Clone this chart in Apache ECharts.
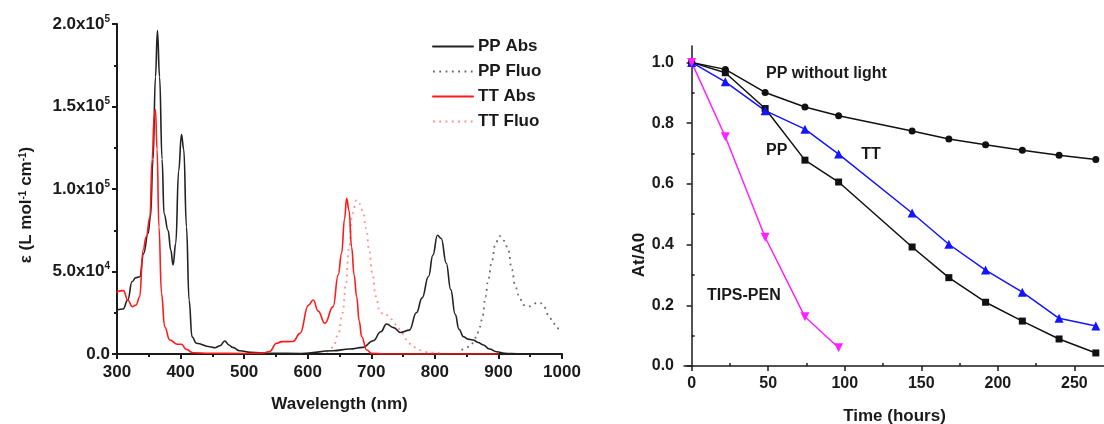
<!DOCTYPE html>
<html>
<head>
<meta charset="utf-8">
<script src="https://cdn.jsdelivr.net/npm/echarts@6/dist/echarts.min.js"></script>
<style>
html,body{margin:0;padding:0;background:#fff;}
#c{width:1104px;height:424px;}
</style>
</head>
<body>
<div id="c"></div>
<script>
// ---------- Left chart: absorption / fluorescence spectra ----------
const ppAbsNm  = [300,309.5,317,323.6,329.5,335.7,342,348.8,352.6,356.7,360.5,363.6,367,370.9,374,380.3,384.6,388.2,392.4,397,401.4,405,409.3,413.4,418,425,446,454,462,469.6,476,482,493,510,540,590,640,666,687,703,715,724,735,746,760,771,780,790,797,804,810,818,825,832,838,845,852,860,868,876,886,897,910,920,940,1000];
const ppAbsEps = [26700,27300,32700,43800,46200,46800,61000,73000,83000,118000,168000,196000,168000,118000,85000,75000,63000,54000,67000,111000,133000,124000,77000,32700,10500,6500,4400,3800,5000,7900,5500,4000,2000,1000,500,300,2000,3000,4000,8000,13500,18200,16000,13000,14500,25000,34000,47000,60000,72000,70000,55000,39000,24000,15000,10500,9000,8500,7000,5500,3000,1400,400,200,0,0];

const ppFluoNm  = [842,855,865,871,875,879.5,884,889.6,894.8,901.6,909.5,915.7,921,926.3,931.5,939.4,947,954,960.5,966,971,979,986,992,1000];
const ppFluoEps = [2400,4400,10000,16500,22600,34700,45000,56000,66000,71500,68500,62600,51300,41800,35800,29700,28700,29500,31300,31000,29000,23600,19000,15600,14500];

const ttAbsNm  = [300,310,317,324,330,335.7,341,346,351.8,355.3,358.5,360.5,363,366,370,375,383,395,401.4,409,419.6,446,500,530,540,551,559,570,577,588,601,608.7,616.5,627,640,648,653.3,658,661.2,665,669,673,677,681,684.9,692.8,700.6,720,800,900];
const ttAbsEps = [37800,38400,32700,28700,29700,34700,63000,71000,83000,118000,144000,148000,124000,77000,36800,16500,8500,5900,5900,2800,800,500,300,600,1500,6500,7500,7500,7600,12500,29500,32700,26000,18600,28700,48000,61000,82000,94300,87000,65000,48000,34700,20000,10500,2400,400,0,0,0];

const ttFluoNm  = [630,640,648,655,660,665,670,677,682,687,692,697,702,707,713.7,720,725,732,740,748,756,765,775,785,797,812];
const ttFluoEps = [1000,4000,12000,25000,42000,65000,85000,93300,91000,86000,76000,62000,48000,35000,25600,23500,23600,21000,17600,12500,8500,4500,2400,1200,800,200];

const wavelengthTicks = [300,400,500,600,700,800,900,1000];
const epsTicks = [0,50000,100000,150000,200000];

// ---------- Right chart: photostability ----------
const hours      = [0,22,48,74,96,144,168,192,216,240,264];
const ppDark     = [1.0,0.977,0.901,0.853,0.824,0.774,0.748,0.729,0.711,0.694,0.680];
const ppLight    = [1.0,0.966,0.848,0.678,0.606,0.392,0.291,0.210,0.148,0.089,0.043];
const ttLight    = [1.0,0.936,0.841,0.780,0.698,0.504,0.401,0.316,0.243,0.157,0.132];
const tipsHours  = [0,22,48,74,96];
const tipsLight  = [1.0,0.755,0.424,0.162,0.060];
const hourTicks  = [0,50,100,150,200,250];
const hourMinor  = [25,75,125,175,225];
const ratioTicks = [0,0.2,0.4,0.6,0.8,1.0];
const ratioMinor = [0.1,0.3,0.5,0.7,0.9];
const annotTexts = ['PP without light','PP','TT','TIPS-PEN'];
const annotX     = [48.6,48.6,110.7,10];
const annotY     = [0.964,0.711,0.695,0.231];

const zip = (a,b) => a.map((v,i)=>[v,b[i]]);
const FONT = 'Liberation Sans, Arial, sans-serif';
const INK = '#1a1a1a';

const chart = echarts.init(document.getElementById('c'));

function sciLabel(v){
  if (v === 0) return '{a|0.0}';
  const e = Math.floor(Math.log10(v) + 1e-9);
  const m = (v/Math.pow(10,e)).toFixed(1);
  return '{a|' + m + 'x10}{s|' + e + '}';
}

const leftLine = (name, nm, eps, color, type, width) => ({
  name, type:'line', xAxisIndex:0, yAxisIndex:0,
  data: zip(nm, eps), showSymbol:false, symbol:'none',
  smooth:0.45, smoothMonotone:'x',
  lineStyle:{color, width, type, cap: type === 'solid' ? 'round' : 'butt'},
  itemStyle:{color, opacity:0},
  z: type === 'solid' ? 3 : 2
});

const rightLine = (name, x, y, color, symbol, size, rotate) => ({
  name, type:'line', xAxisIndex:1, yAxisIndex:1,
  data: zip(x, y), symbol, symbolSize:size, symbolRotate: rotate||0,
  showAllSymbol:true,
  lineStyle:{color, width:1.5}, itemStyle:{color, opacity:1}
});

chart.setOption({
  animation:false,
  backgroundColor:'#fff',
  textStyle:{fontFamily:FONT},
  grid:[
    {left:117, top:24, width:445, height:330, outerBoundsMode:'none', containLabel:false},
    {left:684, top:46, width:421, height:320, outerBoundsMode:'none', containLabel:false}
  ],
  legend:{
    left:427, top:33, orient:'vertical',
    itemWidth:40, itemHeight:14, itemGap:8,
    textStyle:{fontSize:17, fontWeight:'bold', color:INK, fontFamily:FONT},
    data:['PP Abs','PP Fluo','TT Abs','TT Fluo']
  },
  xAxis:[
    {
      type:'value', gridIndex:0, min:300, max:1000, interval:100,
      axisLine:{lineStyle:{color:INK, width:2}},
      axisTick:{length:5, lineStyle:{width:2, color:INK}},
      minorTick:{show:true, splitNumber:2, length:3, lineStyle:{width:2, color:INK}},
      splitLine:{show:false},
      axisLabel:{fontSize:17, fontWeight:'bold', color:INK, margin:10, fontFamily:FONT,
                 customValues:wavelengthTicks, formatter:v=>String(v)},
      name:'Wavelength (nm)', nameLocation:'middle', nameGap:42,
      nameTextStyle:{fontSize:17, fontWeight:'bold', color:INK, fontFamily:FONT}
    },
    {
      type:'value', gridIndex:1, min:-5, max:270,
      axisLine:{lineStyle:{color:INK, width:1.5}},
      axisTick:{length:5, lineStyle:{width:1.5, color:INK}, customValues:hourTicks},
      splitLine:{show:false},
      axisLabel:{fontSize:16, fontWeight:'bold', color:INK, margin:10, fontFamily:FONT,
                 customValues:hourTicks, formatter:v=>String(v)},
      name:'Time (hours)', nameLocation:'middle', nameGap:42,
      nameTextStyle:{fontSize:17, fontWeight:'bold', color:INK, fontFamily:FONT}
    },
    {
      type:'value', gridIndex:1, min:-5, max:270,
      axisLine:{show:false},
      axisTick:{length:3, lineStyle:{width:1.5, color:INK}, customValues:hourMinor},
      axisLabel:{show:false},
      splitLine:{show:false}
    }
  ],
  yAxis:[
    {
      type:'value', gridIndex:0, min:0, max:200000, interval:50000,
      axisLine:{show:true, lineStyle:{color:INK, width:2}},
      axisTick:{show:true, length:5, lineStyle:{width:2, color:INK}},
      minorTick:{show:true, splitNumber:2, length:3, lineStyle:{width:2, color:INK}},
      splitLine:{show:false},
      axisLabel:{
        margin:7, formatter:sciLabel, customValues:epsTicks,
        rich:{
          a:{fontSize:17, fontWeight:'bold', color:INK, fontFamily:FONT, lineHeight:20},
          s:{fontSize:10, fontWeight:'bold', color:INK, fontFamily:FONT, verticalAlign:'top', lineHeight:12}
        }
      },
      name:'ε (L mol{s|-1} cm{s|-1})', nameLocation:'middle', nameGap:82,
      nameTextStyle:{
        fontSize:17, fontWeight:'bold', color:INK, fontFamily:FONT, padding:[0,32,0,0],
        rich:{s:{fontSize:10, fontWeight:'bold', color:INK, fontFamily:FONT, verticalAlign:'top', lineHeight:12}}
      }
    },
    {
      type:'value', gridIndex:1, min:0, max:1.054,
      axisLine:{show:true, lineStyle:{color:INK, width:1.5}},
      axisTick:{show:true, length:5, lineStyle:{width:1.5, color:INK}, customValues:ratioTicks},
      splitLine:{show:false},
      axisLabel:{fontSize:16, fontWeight:'bold', color:INK, margin:10, fontFamily:FONT,
                 customValues:ratioTicks, formatter:v=>v.toFixed(1)},
      name:'At/A0', nameLocation:'middle', nameGap:22,
      nameTextStyle:{fontSize:17, fontWeight:'bold', color:INK, fontFamily:FONT, padding:[0,98,0,0]}
    },
    {
      type:'value', gridIndex:1, min:0, max:1.054,
      axisLine:{show:false},
      axisTick:{show:true, length:3, lineStyle:{width:1.5, color:INK}, customValues:ratioMinor},
      axisLabel:{show:false},
      splitLine:{show:false}
    }
  ],
  series:[
    leftLine('PP Abs', ppAbsNm, ppAbsEps, '#222222', 'solid', 1.6),
    leftLine('PP Fluo', ppFluoNm, ppFluoEps, '#6a6a6a', [1.8,4.5], 1.8),
    leftLine('TT Abs', ttAbsNm, ttAbsEps, '#ff1a1a', 'solid', 1.6),
    leftLine('TT Fluo', ttFluoNm, ttFluoEps, '#ff8c8c', [1.8,4.5], 1.8),
    rightLine('PP without light', hours, ppDark, '#111111', 'circle', 7),
    rightLine('PP', hours, ppLight, '#111111', 'rect', 7),
    rightLine('TT', hours, ttLight, '#1414ff', 'triangle', 9),
    rightLine('TIPS-PEN', tipsHours, tipsLight, '#ff22ff', 'triangle', 9, 180),
    {
      type:'scatter', xAxisIndex:1, yAxisIndex:1, symbolSize:0, silent:true,
      itemStyle:{opacity:1},
      data: annotTexts.map((t,i)=>({value:[annotX[i], annotY[i]], name:t})),
      label:{show:true, position:'right', distance:0, formatter:p=>p.name,
             fontSize:16, fontWeight:'bold', color:INK, fontFamily:FONT}
    }
  ]
});
</script>
</body>
</html>
